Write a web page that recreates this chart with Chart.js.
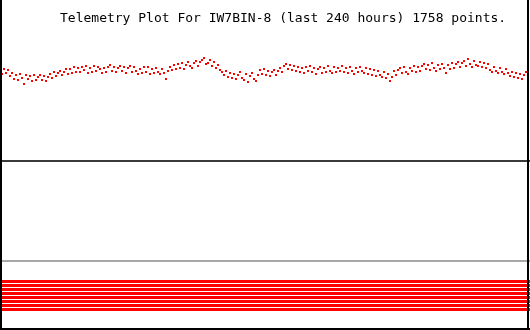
<!DOCTYPE html>
<html>
<head>
<meta charset="utf-8">
<script src="https://cdn.jsdelivr.net/npm/chart.js@4/dist/chart.umd.min.js"></script>
<style>
  html, body { margin: 0; padding: 0; background: #ffffff; }
  #wrap { position: relative; width: 530px; height: 330px; }
</style>
</head>
<body>
<div id="wrap"><canvas id="c" width="530" height="330"></canvas></div>
<script>
// ---- data ----
const TITLE = "Telemetry Plot For IW7BIN-8 (last 240 hours) 1758 points.";
const HOURS = 240;
// telemetry samples, evenly spaced over the last 240 hours
const telemetry = [
  259,256,261,257,260,254,257,251,255,250,
  256,252,246,255,251,254,249,255,250,253,
  255,250,254,249,253,256,252,258,254,257,
  259,255,258,261,256,261,257,263,258,262,
  258,263,260,264,257,262,258,264,259,263,
  261,257,262,258,263,265,259,263,258,262,
  264,259,263,257,262,264,258,263,259,256,
  261,257,263,258,263,256,261,257,262,258,
  256,261,257,251,259,263,260,265,261,266,
  262,267,261,265,268,264,262,267,269,264,
  268,270,272,266,267,270,264,268,262,265,
  260,258,255,259,253,257,252,256,251,255,
  258,252,250,256,248,254,257,251,249,255,
  260,256,261,255,259,254,258,260,255,259,
  262,258,264,266,261,265,260,264,259,263,
  258,262,257,263,259,264,258,262,256,261,
  263,257,262,258,264,259,257,263,258,262,
  259,264,258,262,257,263,259,256,262,258,
  263,259,257,262,256,261,255,260,254,259,
  255,253,258,252,256,249,253,259,255,260,
  262,257,263,258,256,262,259,264,258,263,
  259,264,266,261,265,260,267,262,259,265,
  261,266,262,257,265,261,267,262,266,268,
  263,267,269,264,271,266,263,269,265,264,
  268,263,267,262,266,260,258,263,259,257,
  262,258,256,261,257,254,258,253,257,252,
  256,251,255,258,254
];
const separatorLevel = 169;   // dark panel separator
const zeroLevel = 69;         // grey baseline of lower panel
const bitLevels = [48.5, 44.5, 40.5, 36.5, 32.5, 28.5, 24.5, 20.5]; // 8 digital channels
const Y_MIN = 0, Y_MAX = 330;

// ---- build datasets ----
const N = 265;
const points = telemetry.map((v, i) => ({ x: i * HOURS / N, y: v }));
const hline = (lvl) => [{ x: 0, y: lvl }, { x: HOURS, y: lvl }];

const datasets = [
  { data: hline(separatorLevel), borderColor: '#3a3a3a', borderWidth: 2, pointRadius: 0, showLine: true },
  { data: hline(zeroLevel), borderColor: '#a8a8a8', borderWidth: 2, pointRadius: 0, showLine: true },
  ...bitLevels.map(l => ({ data: hline(l), borderColor: '#ff0000', borderWidth: 3, pointRadius: 0, showLine: true })),
  { data: points, showLine: false, pointStyle: 'rect', pointRadius: 1.42, pointBorderWidth: 0,
    pointBackgroundColor: '#ff0000', pointBorderColor: '#ff0000' }
];

const frame = {
  id: 'frame',
  beforeDraw(chart) {
    const ctx = chart.ctx;
    ctx.save();
    ctx.fillStyle = '#ffffff';
    ctx.fillRect(0, 0, chart.width, chart.height);
    ctx.restore();
  },
  afterDraw(chart) {
    const ctx = chart.ctx;
    ctx.save();
    ctx.fillStyle = '#000000';
    ctx.fillRect(0, 0, 2, 330);
    ctx.fillRect(527, 0, 2, 330);
    ctx.fillRect(0, 328, 530, 2);
    ctx.font = '13px "DejaVu Sans Mono", monospace';
    ctx.textBaseline = 'alphabetic';
    ctx.textAlign = 'left';
    ctx.fillText(TITLE, 60, 22);
    ctx.restore();
  }
};

new Chart(document.getElementById('c'), {
  type: 'scatter',
  data: { datasets },
  options: {
    responsive: false,
    animation: false,
    devicePixelRatio: 1,
    layout: { padding: 0, autoPadding: false },
    plugins: { legend: { display: false }, tooltip: { enabled: false }, title: { display: false } },
    scales: {
      x: { type: 'linear', display: false, min: 0, max: HOURS },
      y: { type: 'linear', display: false, min: Y_MIN, max: Y_MAX }
    }
  },
  plugins: [frame]
});
</script>
</body>
</html>
